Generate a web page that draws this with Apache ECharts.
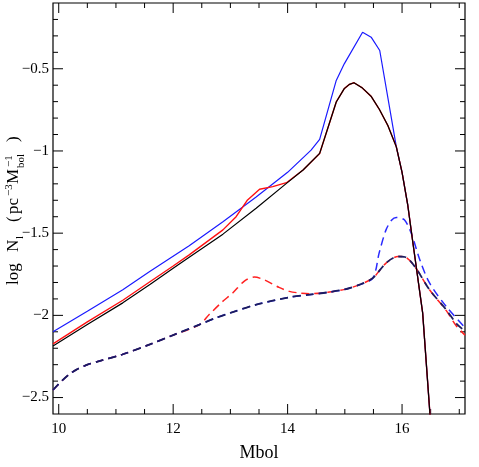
<!DOCTYPE html>
<html>
<head>
<meta charset="utf-8">
<title></title>
<script src="https://cdn.jsdelivr.net/npm/echarts@6/dist/echarts.min.js"></script>
<style>
  body { margin: 0; background: #fff; }
  #main { width: 479px; height: 467px; }
</style>
</head>
<body>
<div id="main"></div>
<script type="text/javascript">
// tick positions / labels
var xMajor = [10, 12, 14, 16];
var xMinor = [10.5, 11, 11.5, 12.5, 13, 13.5, 14.5, 15, 15.5, 16.5, 17];
var yMajor = [-2.5, -2, -1.5, -1, -0.5];
var yMinor = [-2.4, -2.3, -2.2, -2.1, -1.9, -1.8, -1.7, -1.6, -1.4, -1.3, -1.2,
              -1.1, -0.9, -0.8, -0.7, -0.6, -0.4, -0.3, -0.2];

// blue solid
var blueX = [9.9, 10.5, 11.12, 11.59, 12.28, 12.87, 13.45, 14.0, 14.41, 14.56,
             14.85, 14.99, 15.31, 15.46, 15.61, 15.9, 16.0, 16.1, 16.19, 16.36, 16.5];
var blueY = [-2.10, -1.975, -1.844, -1.733, -1.577, -1.43, -1.28, -1.13, -0.995, -0.93,
             -0.571, -0.47, -0.278, -0.308, -0.389, -0.975, -1.13, -1.33, -1.56, -1.985, -2.66];

// red solid
var redX = [9.9, 10.5, 11.12, 11.6, 12.0, 12.28, 12.87, 13.1, 13.3, 13.51, 13.74, 13.98,
            14.27, 14.56, 14.85, 14.99, 15.08, 15.16, 15.3, 15.46, 15.6, 15.75, 15.9,
            16.0, 16.1, 16.19, 16.36, 16.5];
var redY = [-2.173, -2.04, -1.908, -1.794, -1.70, -1.632, -1.48, -1.40, -1.298, -1.233, -1.217, -1.193,
            -1.116, -1.015, -0.702, -0.621, -0.595, -0.585, -0.615, -0.668, -0.745, -0.844, -0.975,
            -1.13, -1.33, -1.56, -1.985, -2.66];

// black solid
var blackX = [9.9, 10.5, 11.12, 11.6, 12.0, 12.28, 12.87, 13.45, 13.98, 14.27, 14.56,
              14.85, 14.99, 15.08, 15.16, 15.3, 15.46, 15.6, 15.75, 15.9,
              16.0, 16.1, 16.19, 16.36, 16.5];
var blackY = [-2.187, -2.055, -1.924, -1.811, -1.713, -1.646, -1.506, -1.349, -1.197, -1.116, -1.015,
              -0.702, -0.621, -0.595, -0.585, -0.615, -0.668, -0.745, -0.844, -0.975,
              -1.13, -1.33, -1.56, -1.985, -2.66];

// navy dashed (lower curve)
var navyX = [9.9, 10.05, 10.18, 10.31, 10.5, 10.71, 11.11, 11.59, 12.0, 12.46, 12.75, 13.0, 13.45,
             14.03, 14.38, 14.7, 15.0, 15.26, 15.49, 15.72, 15.93, 16.05, 16.22, 16.48, 16.77, 16.95, 17.1];
var navyY = [-2.454, -2.40, -2.36, -2.33, -2.30, -2.278, -2.238, -2.177, -2.12, -2.056, -2.015, -1.985, -1.935,
             -1.89, -1.874, -1.86, -1.842, -1.813, -1.773, -1.682, -1.642, -1.645, -1.702, -1.844, -1.965, -2.05, -2.096];

// red dashed
var redDashX = [9.9, 10.05, 10.18, 10.31, 10.5, 10.71, 11.11, 11.59, 12.0, 12.46, 12.63, 12.85, 13.04,
                13.25, 13.42, 13.6, 13.85, 14.03, 14.21, 14.38, 14.7, 15.0, 15.26, 15.49, 15.72,
                15.93, 16.05, 16.22, 16.48, 16.77, 16.95, 17.1];
var redDashY = [-2.454, -2.40, -2.36, -2.33, -2.30, -2.278, -2.238, -2.177, -2.12, -2.056, -1.995, -1.92, -1.864,
                -1.79, -1.767, -1.785, -1.83, -1.854, -1.864, -1.868, -1.86, -1.842, -1.813, -1.773, -1.682,
                -1.642, -1.645, -1.702, -1.844, -1.97, -2.065, -2.12];

// blue dashed
var blueDashX = [9.9, 10.05, 10.18, 10.31, 10.5, 10.71, 11.11, 11.59, 12.0, 12.46, 12.75, 13.0, 13.45,
                 14.03, 14.38, 14.7, 15.0, 15.26, 15.49, 15.6, 15.72, 15.82, 15.9, 16.04, 16.16,
                 16.31, 16.48, 16.77, 17.1];
var blueDashY = [-2.454, -2.40, -2.36, -2.33, -2.30, -2.278, -2.238, -2.177, -2.12, -2.056, -2.015, -1.985, -1.935,
                 -1.89, -1.874, -1.86, -1.842, -1.813, -1.773, -1.62, -1.48, -1.42, -1.405, -1.419, -1.5,
                 -1.662, -1.803, -1.945, -2.075];

function pairs(xs, ys) {
  return xs.map(function (x, i) { return [x, ys[i]]; });
}

var FONT = 'Liberation Serif';
var X_MIN = 9.9, X_MAX = 17.1, Y_MIN = -2.6, Y_MAX = -0.1;

function fmt(v) {
  return String(v).replace('-', '\u2212');
}

function line(xs, ys, color, dashed, width, smooth) {
  return {
    type: 'line',
    data: pairs(xs, ys),
    showSymbol: false, smooth: smooth || false, clip: true,
    lineStyle: { color: color, width: width, type: dashed ? [8, 5] : 'solid' }
  };
}

// inward ticks on both sides, placed with the axis scale
function ticks(values, dir, len) {
  return {
    type: 'custom', silent: true, clip: false,
    data: values.map(function (v) { return dir === 'x' ? [v, Y_MIN] : [X_MIN, v]; }),
    renderItem: function (params, api) {
      var st = { stroke: '#000', lineWidth: 1 };
      if (dir === 'x') {
        var v = api.value(0);
        var a = api.coord([v, Y_MIN]), b = api.coord([v, Y_MAX]);
        return { type: 'group', children: [
          { type: 'line', shape: { x1: a[0], y1: a[1], x2: a[0], y2: a[1] - len }, style: st },
          { type: 'line', shape: { x1: b[0], y1: b[1], x2: b[0], y2: b[1] + len }, style: st }
        ] };
      }
      var w = api.value(1);
      var c = api.coord([X_MIN, w]), d = api.coord([X_MAX, w]);
      return { type: 'group', children: [
        { type: 'line', shape: { x1: c[0], y1: c[1], x2: c[0] + len, y2: c[1] }, style: st },
        { type: 'line', shape: { x1: d[0], y1: d[1], x2: d[0] - len, y2: d[1] }, style: st }
      ] };
    }
  };
}

var nameStyle = function (t, size) {
  return { text: t, fontFamily: FONT, fontSize: size, fill: '#000', verticalAlign: 'middle' };
};

var myChart = echarts.init(document.getElementById('main'));
myChart.setOption({
  animation: false,
  grid: { left: 53, right: 14, top: 3, bottom: 53, show: true, borderColor: '#000', borderWidth: 1.2, backgroundColor: 'transparent' },
  xAxis: {
    type: 'value', min: X_MIN, max: X_MAX,
    name: 'Mbol', nameLocation: 'middle', nameGap: 30,
    nameTextStyle: { fontFamily: FONT, fontSize: 18, color: '#000' },
    axisLine: { show: false },
    axisTick: { show: false },
    axisLabel: { customValues: xMajor, margin: 8, fontFamily: FONT, fontSize: 15, color: '#000' },
    splitLine: { show: false }
  },
  yAxis: {
    type: 'value', min: Y_MIN, max: Y_MAX,
    axisLine: { show: false },
    axisTick: { show: false },
    axisLabel: { customValues: yMajor, margin: 4, fontFamily: FONT, fontSize: 15, color: '#000', formatter: fmt },
    splitLine: { show: false }
  },
  graphic: [{
    type: 'group', x: 14, y: 288, rotation: Math.PI / 2,
    children: [
      { type: 'text', x: 3, y: 0, style: nameStyle('log', 17) },
      { type: 'text', x: 36, y: 0, style: nameStyle('N', 17) },
      { type: 'text', x: 49, y: 6, style: nameStyle('l', 11) },
      { type: 'text', x: 66, y: 0, style: nameStyle('(', 17) },
      { type: 'text', x: 74, y: 0, style: nameStyle('pc', 17) },
      { type: 'text', x: 92, y: -5, style: nameStyle('\u22123', 11) },
      { type: 'text', x: 104, y: 0, style: nameStyle('M', 17) },
      { type: 'text', x: 121, y: -5, style: nameStyle('\u22121', 11) },
      { type: 'text', x: 120, y: 7, style: nameStyle('bol', 11) },
      { type: 'text', x: 146, y: 0, style: nameStyle(')', 17) }
    ]
  }],
  series: [
    line(redDashX, redDashY, '#ff2020', true, 1.5, 0.3),
    line(blueDashX, blueDashY, '#2a2aff', true, 1.5, 0.3),
    line(navyX, navyY, '#1c1c5e', true, 1.8, 0.3),
    line(blueX, blueY, '#1a1aff', false, 1.2),
    line(redX, redY, '#ff1010', false, 1.4),
    line(blackX, blackY, '#000000', false, 1.2),
    ticks(xMajor, 'x', 10),
    ticks(xMinor, 'x', 5),
    ticks(yMajor, 'y', 10),
    ticks(yMinor, 'y', 5)
  ]
});
</script>
</body>
</html>
